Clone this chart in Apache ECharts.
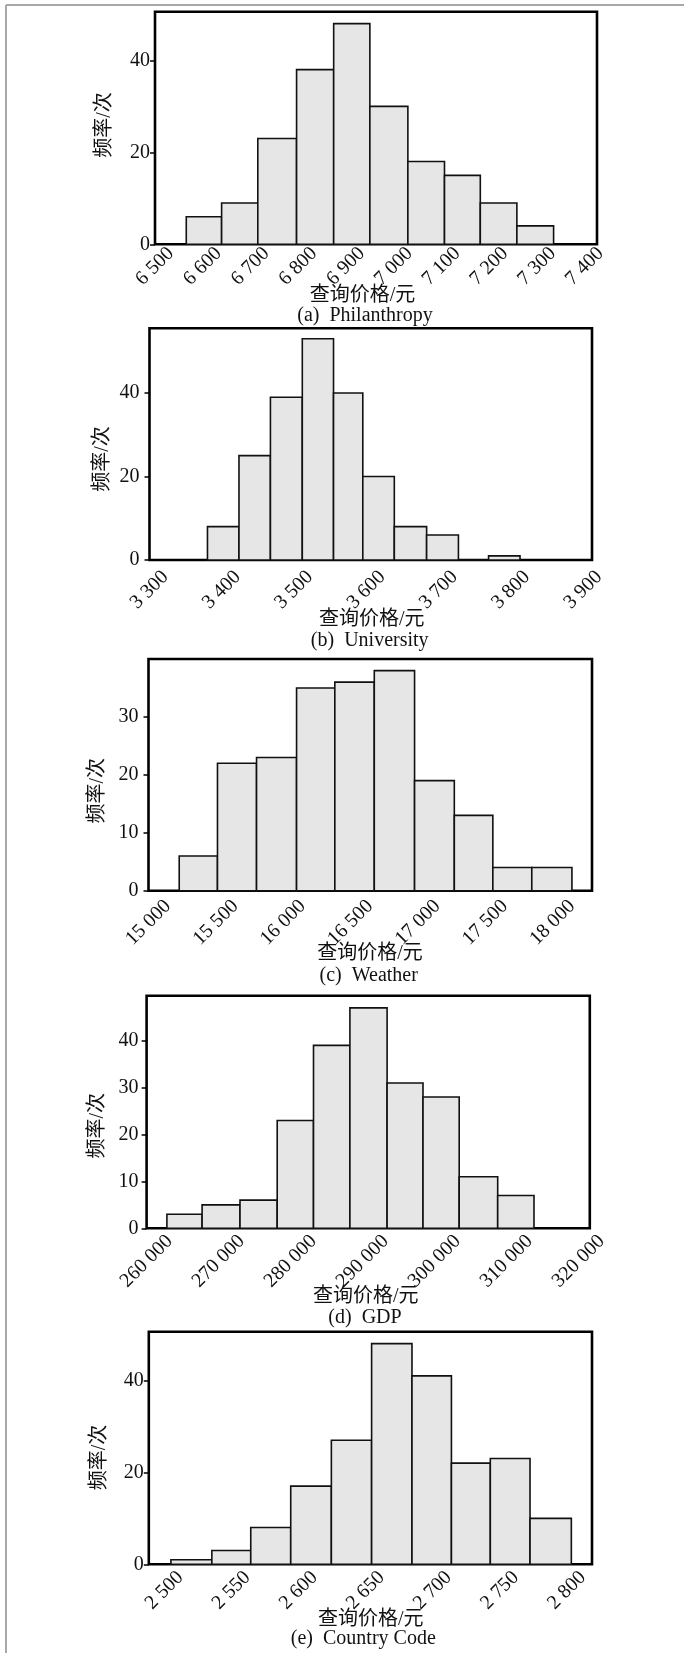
<!DOCTYPE html>
<html>
<head>
<meta charset="utf-8">
<script src="https://cdn.jsdelivr.net/npm/echarts@6/dist/echarts.min.js"></script>
<style>
html,body{margin:0;padding:0;background:#fff;}
#chart{width:684px;height:1653px;}
</style>
</head>
<body>
<div id="chart"></div>
<script>
// ---------- data ----------
const captions = ['(a)  Philanthropy', '(b)  University', '(c)  Weather', '(d)  GDP', '(e)  Country Code'];
const xAxisName = '查询价格/元';
const yAxisName = '频率/次';

const edgesA = [6565.5, 6639.5, 6715.3, 6796.5, 6874.2, 6950, 7029.6, 7106.3, 7181.3, 7257.9, 7334.8];
const countsA = [6, 9, 23, 38, 48, 30, 18, 15, 9, 4];
const xTicksA = [6500, 6600, 6700, 6800, 6900, 7000, 7100, 7200, 7300, 7400];
const yTicksA = [0, 20, 40];

const edgesB = [3380.2, 3423.8, 3467.3, 3511.4, 3554.6, 3595.1, 3638.7, 3683.4, 3727.4, 3769.1, 3812.6];
const countsB = [8, 25, 39, 53, 40, 20, 8, 6, 0, 1];
const xTicksB = [3300, 3400, 3500, 3600, 3700, 3800, 3900];
const yTicksB = [0, 20, 40];

const edgesC = [15228, 15512, 15802, 16099, 16383, 16676, 16975, 17270, 17556, 17845, 18143];
const countsC = [6, 22, 23, 35, 36, 38, 19, 13, 4, 4];
const xTicksC = [15000, 15500, 16000, 16500, 17000, 17500, 18000];
const yTicksC = [0, 10, 20, 30];

const edgesD = [262819, 267708, 272972, 278139, 283181, 288236, 293403, 298389, 303417, 308764, 313806];
const countsD = [3, 5, 6, 23, 39, 47, 31, 28, 11, 7];
const xTicksD = [260000, 270000, 280000, 290000, 300000, 310000, 320000];
const yTicksD = [0, 10, 20, 30, 40];

const edgesE = [2504.8, 2535.3, 2564.3, 2594.1, 2624.4, 2654.4, 2684.5, 2713.9, 2742.9, 2772.5, 2803.3];
const countsE = [1, 3, 8, 17, 27, 48, 41, 22, 23, 10];
const xTicksE = [2500, 2550, 2600, 2650, 2700, 2750, 2800];
const yTicksE = [0, 20, 40];

// ---------- layout (positions / axis ranges) ----------
const panels = [
  {edges: edgesA, counts: countsA, xTicks: xTicksA, yTicks: yTicksA,
   grid: {left: 155, top: 11.7, width: 442, height: 232.6}, xMin: 6500, xMax: 7425.7, yMax: 50.6,
   yLabelMargin: 5, xLabelMargin: 22, yName: [104.7, 125], xName: [362.5, 296], cap: [365, 315.5]},
  {edges: edgesB, counts: countsB, xTicks: xTicksB, yTicks: yTicksB,
   grid: {left: 149.5, top: 328.3, width: 442.5, height: 231.7}, xMin: 3300, xMax: 3912.2, yMax: 55.5,
   yLabelMargin: 10, xLabelMargin: 30, yName: [102.5, 459], xName: [371.7, 620], cap: [369.7, 640.5]},
  {edges: edgesC, counts: countsC, xTicks: xTicksC, yTicks: yTicksC,
   grid: {left: 148.5, top: 659, width: 443.5, height: 231.7}, xMin: 15000, xMax: 18292, yMax: 40,
   yLabelMargin: 10, xLabelMargin: 32, yName: [98, 790.7], xName: [370, 954], cap: [368.7, 975.7]},
  {edges: edgesD, counts: countsD, xTicks: xTicksD, yTicks: yTicksD,
   grid: {left: 146.6, top: 995.7, width: 443.2, height: 232.6}, xMin: 260000, xMax: 321556, yMax: 49.6,
   yLabelMargin: 8, xLabelMargin: 33, yName: [98, 1125.8], xName: [365.8, 1296.7], cap: [365, 1318]},
  {edges: edgesE, counts: countsE, xTicks: xTicksE, yTicks: yTicksE,
   grid: {left: 148.8, top: 1331.7, width: 443.2, height: 232.6}, xMin: 2488.3, xMax: 2818.7, yMax: 50.6,
   yLabelMargin: 5, xLabelMargin: 26, yName: [100, 1457.5], xName: [370.8, 1620], cap: [363.3, 1639]}
];

const serif = "'Liberation Serif', 'Times New Roman', 'Noto Sans CJK SC', serif";
const cjk = "'Liberation Serif', 'Noto Sans CJK SC', serif";

function fmt(v) {
  const s = String(Math.round(v));
  if (s.length <= 3) return s;
  return s.replace(/\B(?=(\d{3})+(?!\d))/g, ' ');
}

const grids = [], xAxes = [], yAxes = [], series = [], graphics = [];

panels.forEach((p, i) => {
  grids.push(Object.assign({show: true, borderColor: '#000', borderWidth: 2.6, backgroundColor: 'transparent'}, p.grid));
  xAxes.push({
    type: 'value', gridIndex: i, min: p.xMin, max: p.xMax,
    axisLine: {show: false}, axisTick: {show: false}, splitLine: {show: false},
    axisLabel: {
      customValues: p.xTicks, rotate: 45, align: 'center', verticalAlign: 'middle',
      margin: p.xLabelMargin, fontSize: 20, fontFamily: serif, color: '#111',
      formatter: fmt, hideOverlap: false
    }
  });
  yAxes.push({
    type: 'value', gridIndex: i, min: 0, max: p.yMax,
    axisLine: {show: false}, splitLine: {show: false},
    axisTick: {show: true, customValues: p.yTicks, length: 5, inside: false, lineStyle: {color: '#000', width: 1.5}},
    axisLabel: {customValues: p.yTicks, margin: p.yLabelMargin, fontSize: 20, fontFamily: serif, color: '#111'}
  });
  const data = p.counts.map((c, k) => [p.edges[k], p.edges[k + 1], c]);
  series.push({
    type: 'custom', xAxisIndex: i, yAxisIndex: i, data: data,
    encode: {x: [0, 1], y: 2},
    renderItem: function (params, api) {
      const a = api.coord([api.value(0), api.value(2)]);
      const b = api.coord([api.value(1), 0]);
      return {
        type: 'rect',
        shape: {x: a[0], y: a[1], width: b[0] - a[0], height: b[1] - a[1]},
        style: {fill: '#e6e6e6', stroke: '#111', lineWidth: 1.6}
      };
    }
  });
  graphics.push({
    type: 'text', x: p.yName[0], y: p.yName[1], rotation: Math.PI / 2,
    style: {text: yAxisName, fontSize: 20, fontFamily: cjk, fill: '#111',
            align: 'center', verticalAlign: 'middle', textAlign: 'center', textVerticalAlign: 'middle'}
  });
  graphics.push({
    type: 'text', x: p.xName[0], y: p.xName[1],
    style: {text: xAxisName, fontSize: 20, fontFamily: cjk, fill: '#111',
            align: 'center', verticalAlign: 'middle', textAlign: 'center', textVerticalAlign: 'middle'}
  });
  graphics.push({
    type: 'text', x: p.cap[0], y: p.cap[1],
    style: {text: captions[i], fontSize: 20, fontFamily: serif, fill: '#111',
            align: 'center', verticalAlign: 'middle', textAlign: 'center', textVerticalAlign: 'middle'}
  });
});

// page border lines (top and left)
graphics.push({type: 'line', shape: {x1: 6, y1: 5, x2: 684, y2: 5}, style: {stroke: '#a8a8a8', lineWidth: 2}});
graphics.push({type: 'line', shape: {x1: 6, y1: 5, x2: 6, y2: 1653}, style: {stroke: '#a8a8a8', lineWidth: 2}});

const chart = echarts.init(document.getElementById('chart'), null, {renderer: 'canvas'});
chart.setOption({
  animation: false,
  backgroundColor: '#fff',
  grid: grids,
  xAxis: xAxes,
  yAxis: yAxes,
  series: series,
  graphic: graphics
});
</script>
</body>
</html>
